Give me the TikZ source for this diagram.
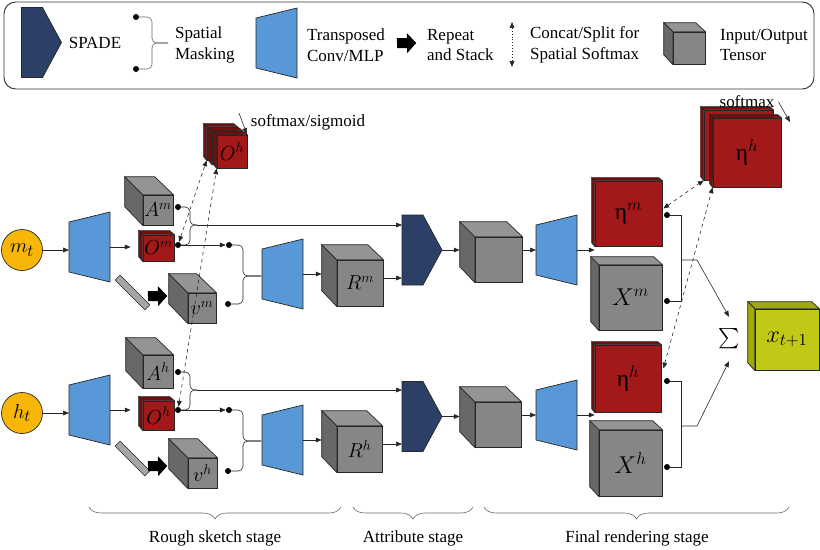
\documentclass[tikz,border=0pt]{standalone}
\usepackage{fontspec}
\setmainfont{Liberation Serif}
\usepackage{amsmath}
\usepackage{tikz}
\usetikzlibrary{arrows.meta,calc,decorations.pathreplacing}

\definecolor{circyellow}{RGB}{247,182,8}
\definecolor{convblue}{RGB}{88,152,214}
\definecolor{spadeblue}{RGB}{44,63,102}
\definecolor{cubefront}{RGB}{134,134,134}
\definecolor{cubetop}{RGB}{148,148,148}
\definecolor{cubeside}{RGB}{104,104,104}
\definecolor{tensred}{RGB}{163,24,24}
\definecolor{tensreddark}{RGB}{118,12,12}
\definecolor{tenslime}{RGB}{192,202,22}
\definecolor{tenslimedark}{RGB}{160,170,8}

\newcommand{\pxu}{0.03cm}
\newcommand{\biglab}{\fontsize{20}{20}\selectfont}

\newcommand{\tensorbox}[7][gray]{%
  \node[#1front, minimum width=#4*\pxu, minimum height=#5*\pxu] (#2) at (#3) {#7};
  \filldraw[#1top] (#2.north west) -- ++(-#6,-#6) -- ++(#4,0) -- (#2.north east) -- cycle;
  \filldraw[#1side] (#2.north west) -- ++(-#6,-#6) -- ++(0,#5) -- (#2.south west) -- cycle;
}
\newcommand{\convblock}[2]{%
  \node[blockbox, minimum width=41*\pxu] (#1) at (#2) {};
  \filldraw[convfill] (#1.north east) -- (#1.south east) -- ++(-41,-10) -- ++(0,-50) -- cycle;
}
\newcommand{\spadeblock}[2]{%
  \node[blockbox, minimum width=40*\pxu] (#1) at (#2) {};
  \filldraw[spadefill] (#1.south west) -- (#1.north west) -- ++(21,0) -- (#1.east) -- ++(-19,35) -- cycle;
}
\newcommand{\stackblock}[2]{%
  \node[inner sep=0pt, minimum width=19*\pxu, minimum height=20*\pxu] (#1) at (#2) {};
  \fill[black] (#1.west) ++(0,-5) -- ++(10,0) -- ++(0,-5) -- (#1.east) -- ++(-9,10) -- ++(0,-5) -- ++(-10,0) -- cycle;
}

\tikzset{
  wire/.style={draw=black!85, line width=0.5pt},
  dashwire/.style={wire, dashed, <->},
  joint/.style={circle, fill=black, inner sep=0pt, minimum size=6*\pxu},
  grayfront/.style={draw=black!85, fill=cubefront, line width=0.6pt, inner sep=0pt, font=\fontsize{16.5}{16.5}\selectfont},
  graytop/.style={draw=black!85, fill=cubetop, line width=0.6pt},
  grayside/.style={draw=black!85, fill=cubeside, line width=0.6pt},
  redfront/.style={draw=black!85, fill=tensred, line width=0.6pt, inner sep=0pt, font=\fontsize{16.5}{16.5}\selectfont},
  redtop/.style={draw=black!85, fill=tensreddark, line width=0.6pt},
  redside/.style={draw=black!85, fill=tensreddark, line width=0.6pt},
  limefront/.style={draw=black!85, fill=tenslime, line width=0.6pt, inner sep=0pt, font=\fontsize{16.5}{16.5}\selectfont},
  limetop/.style={draw=black!85, fill=tenslimedark, line width=0.6pt},
  limeside/.style={draw=black!85, fill=tenslimedark, line width=0.6pt},
  blockbox/.style={minimum height=70*\pxu, inner sep=0pt, outer sep=0pt},
  convfill/.style={draw=black!85, fill=convblue, line width=0.6pt},
  spadefill/.style={draw=black!85, fill=spadeblue, line width=0.6pt},
  latent/.style={circle, draw=black!85, fill=circyellow, line width=0.6pt, minimum size=41*\pxu, inner sep=0pt, font=\fontsize{19}{19}\selectfont},
  vecbar/.style={draw=black!85, fill=black!35, line width=0.5pt, minimum width=42*\pxu, minimum height=7*\pxu, inner sep=0pt},
  legtext/.style={font=\fontsize{14.5}{17.5}\selectfont, align=left, anchor=west},
  stagetext/.style={font=\fontsize{14.5}{17.5}\selectfont},
  stagebrace/.style={draw=black!60, line width=0.5pt, decorate, decoration={brace, mirror, amplitude=0.36cm}},
}

\begin{document}
\begin{tikzpicture}[x=\pxu, y=-\pxu, >={Triangle[length=5pt,width=4pt]}]
\useasboundingbox (0,0) rectangle (820,549);

% legend
\draw[black!80, line width=0.8pt, rounded corners=10pt] (4,2) rectangle (814,89);
\spadeblock{lspade}{41.5,42.5}
\node[legtext, anchor=center] (ltspade) at (95,43) {SPADE};
\node[joint] (ld1) at (136,17) {};
\node[joint] (ld2) at (136,69) {};
\coordinate (ldtip) at (168,43);
\draw[wire, draw=black!60, rounded corners=4pt] (ld1) -| (152,43) -- (ldtip);
\draw[wire, draw=black!60, rounded corners=4pt] (ld2) -| (152,43) -- (ldtip);
\node[legtext] (ltmask) at (171,45) {Spatial\\Masking};
\convblock{lconv}{276.5,43}
\node[legtext] (ltconv) at (303,45) {Transposed\\Conv/MLP};
\stackblock{lrep}{406.5,43}
\node[legtext] (ltrep) at (423,45) {Repeat\\and Stack};
\coordinate (lcs1) at (512,22);
\coordinate (lcs2) at (512,67);
\draw[wire, dotted, <->] (lcs1) -- (lcs2);
\node[legtext] (ltcs) at (526,45) {Concat/Split for\\Spatial Softmax};
\tensorbox{lcube}{689,48}{32}{32}{9}{}
\node[legtext] (ltcube) at (716,45) {Input/Output\\Tensor};

% m branch
\node[latent] (mt) at (22,250) {$m_t$};
\convblock{convMa}{89.5,247}
\tensorbox{Am}{158,210}{30}{30}{18}{$A^m$}
\tensorbox[red]{Om}{158.5,248}{31}{26}{4}{$O^m$}
\tensorbox{vm}{202,308}{28}{30}{19}{$v^m$}
\node[vecbar, rotate=-45] (barM) at (132.5,292.5) {};
\stackblock{repM}{157.5,296}
\node[joint] (amdot) at (178,207) {};
\node[joint] (omdot) at (178,245) {};
\node[joint] (omdotb) at (229,245) {};
\node[joint] (vmdot) at (228,304) {};
\coordinate (amtip) at (197,225);
\coordinate (mtipB) at (261,276);
\convblock{convMb}{282.5,274}
\tensorbox{Rm}{360,283}{46}{46}{15}{$R^m$}
\spadeblock{spadeM}{422,250}
\tensorbox{midM}{498.5,259.5}{47}{45}{15}{}
\convblock{convMc}{556.5,250}
\tensorbox[red]{etaM}{628.5,213.5}{67}{65}{3}{\biglab η$^m$}
\tensorbox{Xm}{630.5,297.5}{63}{65}{8}{\biglab $X^m$}
\node[joint] (etamdot) at (667,215) {};
\node[joint] (xmdot) at (667,301) {};
\coordinate (jm) at (681,260);

% h branch
\node[latent] (ht) at (22,413) {$h_t$};
\convblock{convHa}{89.5,410}
\tensorbox{Ah}{158,371.5}{30}{33}{17}{$A^h$}
\tensorbox[red]{Oh}{158.5,415.5}{31}{29}{4}{$O^h$}
\tensorbox{vh}{202.5,473}{29}{30}{19}{$v^h$}
\node[vecbar, rotate=-45] (barH) at (132.5,458.5) {};
\stackblock{repH}{157.5,466}
\node[joint] (ahdot) at (178,372) {};
\node[joint] (ohdot) at (178,410) {};
\node[joint] (ohdotb) at (229,410) {};
\node[joint] (vhdot) at (228,471) {};
\coordinate (ahtip) at (197,390);
\coordinate (htipB) at (261,441);
\convblock{convHb}{282.5,440}
\tensorbox{Rh}{359.5,449}{45}{46}{15}{$R^h$}
\spadeblock{spadeH}{422,416.5}
\tensorbox{midH}{498,424.5}{46}{45}{15}{}
\convblock{convHc}{556.5,415}
\tensorbox[red]{etaH}{628,378.5}{66}{67}{3}{\biglab η$^h$}
\tensorbox{Xh}{630.5,463}{63}{66}{9}{\biglab $X^h$}
\node[joint] (etahdot) at (667,381) {};
\node[joint] (xhdot) at (667,467) {};
\coordinate (jh) at (681,426);

% stacked outputs
\tensorbox[red]{ohs1}{222,143.5}{30}{33}{3}{}
\tensorbox[red]{ohs2}{227,147.5}{30}{33}{3}{}
\tensorbox[red]{ohs3}{232,151.5}{30}{33}{3}{$O^h$}
\node[stagetext] (smO) at (308,122) {softmax/sigmoid};
\coordinate (smOfrom) at (239,113);
\tensorbox[red]{etas1}{738.5,145}{69}{70}{3}{}
\tensorbox[red]{etas2}{747,152.5}{68}{69}{3}{\biglab η$^h$}
\node[stagetext] (smE) at (747,102) {softmax};
\coordinate (smEto) at (790,122);
\node[inner sep=0pt, minimum height=44*\pxu, font=\fontsize{19}{19}\selectfont] (sum) at (729,339) {$\sum$};
\tensorbox[lime]{xt}{787,339.5}{64}{61}{7}{\biglab $x_{t+1}$}

% connectors
\draw[wire, ->] (mt.east) -- (mt.east -| convMa.west);
\draw[wire, ->, shorten >=12*\pxu] (convMa.east) -- (convMa.east -| Om.west);
\draw[wire, rounded corners=4pt] (amdot) -| (190,225) -- (amtip);
\draw[wire, rounded corners=4pt] (omdot) -| (190,225) -- (amtip);
\draw[wire, ->] (amtip) -- (amtip -| spadeM.west);
\draw[wire, ->] (omdot) -- (omdotb);
\draw[wire, rounded corners=4pt] (omdotb) -| (243,276) -- (mtipB);
\draw[wire, rounded corners=4pt] (vmdot) -| (243,276) -- (mtipB);
\draw[wire, ->, shorten >=15*\pxu] (convMb.east) -- (convMb.east -| Rm.west);
\draw[wire, ->] ($(Rm.east)+(0,-5)$) -- ($(Rm.east -| spadeM.west)+(0,-5)$);
\draw[wire, ->, shorten >=15*\pxu] (spadeM.east) -- (spadeM.east -| midM.west);
\draw[wire, ->] (midM.east |- convMc.west) -- (convMc.west);
\draw[wire, ->] (convMc.east) -- (convMc.east -| etaM.west);
\draw[wire] (etamdot) -| (jm);
\draw[wire] (xmdot) -| (jm);
\draw[wire, ->] (jm) -- ++(16,0) -- (sum.north);

\draw[wire, ->] (ht.east) -- (ht.east -| convHa.west);
\draw[wire, ->, shorten >=12*\pxu] (convHa.east) -- (convHa.east -| Oh.west);
\draw[wire, rounded corners=4pt] (ahdot) -| (190,390) -- (ahtip);
\draw[wire, rounded corners=4pt] (ohdot) -| (190,390) -- (ahtip);
\draw[wire, ->] (ahtip) -- (ahtip -| spadeH.west);
\draw[wire, ->] (ohdot) -- (ohdotb);
\draw[wire, rounded corners=4pt] (ohdotb) -| (243,441) -- (htipB);
\draw[wire, rounded corners=4pt] (vhdot) -| (243,441) -- (htipB);
\draw[wire, ->, shorten >=15*\pxu] (convHb.east) -- (convHb.east -| Rh.west);
\draw[wire, ->] ($(Rh.east)+(0,-5)$) -- ($(Rh.east -| spadeH.west)+(0,-5)$);
\draw[wire, ->, shorten >=15*\pxu] (spadeH.east) -- (spadeH.east -| midH.west);
\draw[wire, ->] (midH.east |- convHc.west) -- (convHc.west);
\draw[wire, ->] (convHc.east) -- (convHc.east -| etaH.west);
\draw[wire] (etahdot) -| (jh);
\draw[wire] (xhdot) -| (jh);
\draw[wire, ->] (jh) -- ++(16,0) -- (sum.south);

\draw[wire, ->] (smOfrom) -- (smO.south west);
\draw[wire, ->] (smE.east) -- (smEto);
\draw[dashwire] (omdot) -- (ohs1.south west);
\draw[dashwire] (ohdot) -- (ohs3.south west);
\draw[dashwire] ($(etaM.east)+(1,-5)$) -- (etas1.south west);
\draw[dashwire] ($(etaH.east)+(2,-10)$) -- (etas2.south west);

% stages
\draw[stagebrace] (89,507) -- (341,507);
\draw[stagebrace] (353,507) -- (473,507);
\draw[stagebrace] (484,507) -- (789,507);
\node[stagetext] (rough) at (215,538) {Rough sketch stage};
\node[stagetext] (attr) at (413,538) {Attribute stage};
\node[stagetext] (final) at (637,538) {Final rendering stage};
\end{tikzpicture}
\end{document}
